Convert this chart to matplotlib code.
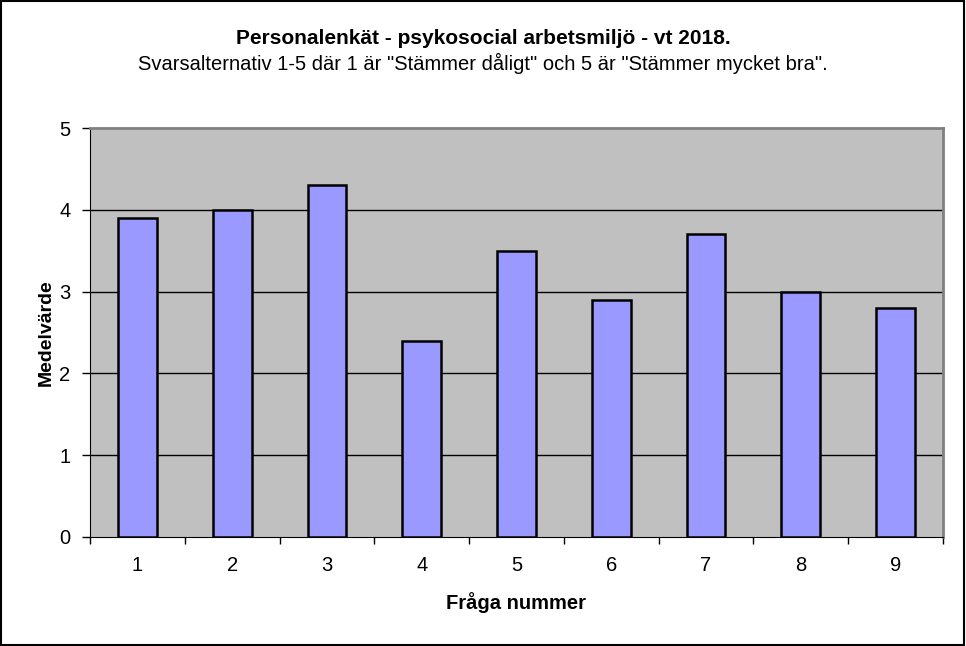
import matplotlib.pyplot as plt
from matplotlib.patches import Rectangle

plt.rcParams['font.family'] = ['Liberation Sans', 'DejaVu Sans']

fragor = ['1', '2', '3', '4', '5', '6', '7', '8', '9']
medel = [3.9, 4.0, 4.3, 2.4, 3.5, 2.9, 3.7, 3.0, 2.8]

fig = plt.figure(figsize=(9.66, 6.46), dpi=100)
ax = fig.add_axes([90/966, 109/646, 853/966, 409/646])
ax.set_facecolor('#C0C0C0')

x = range(len(fragor))
ax.bar(x, medel, width=0.41, color='#9999FF', edgecolor='black', linewidth=1.8, zorder=3)

ax.set_xlim(-0.5, len(fragor) - 0.5)
ax.set_ylim(0, 5)
ax.set_yticks([0, 1, 2, 3, 4, 5])
ax.set_xticks(list(x))
ax.set_xticklabels(fragor)
ax.set_xticks([i + 0.5 for i in range(-1, len(fragor))], minor=True)
ax.tick_params(axis='x', which='major', length=0, pad=14, labelsize=14.5)
ax.tick_params(axis='x', which='minor', length=5, width=1, direction='out')
ax.tick_params(axis='y', length=6, width=1, direction='out', pad=8, labelsize=14.5)
for yv in [1, 2, 3, 4]:
    ax.axhline(yv, color='black', linewidth=1, zorder=1)

ax.spines['left'].set_color('black')
ax.spines['bottom'].set_color('black')
ax.spines['top'].set_color('#808080')
ax.spines['right'].set_color('#808080')
for s in ['top', 'right']:
    ax.spines[s].set_linewidth(2)

ax.set_ylabel('Medelvärde', fontsize=14, fontweight='bold', labelpad=3)
ax.set_xlabel('Fråga nummer', fontsize=14.5, fontweight='bold', labelpad=12)

fig.text(0.5, 1 - 38/646, 'Personalenkät - psykosocial arbetsmiljö - vt 2018.',
         ha='center', va='center', fontsize=15, fontweight='bold')
fig.text(0.5, 1 - 63/646, 'Svarsalternativ 1-5 där 1 är "Stämmer dåligt" och 5 är "Stämmer mycket bra".',
         ha='center', va='center', fontsize=14.5)

fig.patches.append(Rectangle((0.001, 0.001), 0.997, 0.997, transform=fig.transFigure,
                             fill=False, edgecolor='black', linewidth=1.5))

fig.savefig('out.png', dpi=100)
